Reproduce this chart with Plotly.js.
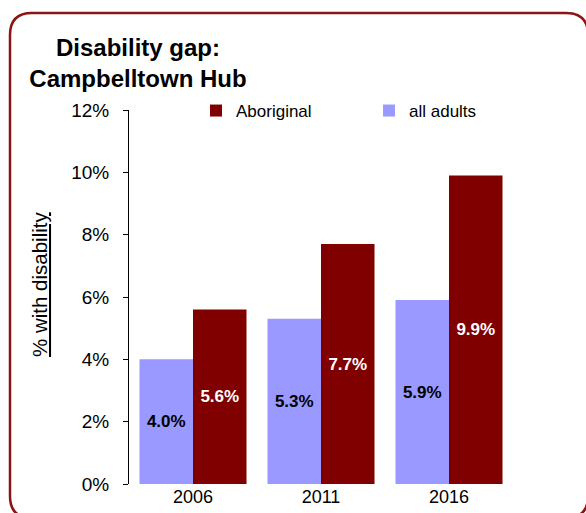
<!DOCTYPE html>
<html>
<head>
<meta charset="utf-8">
<script src="https://cdn.plot.ly/plotly-3.0.1.min.js"></script>
<style>
html,body{margin:0;padding:0;background:#fff;}
#chart{width:586px;height:513px;}
</style>
</head>
<body>
<div id="chart"></div>
<script>
// ---- data ----
var years = ['2006', '2011', '2016'];
var allAdults = [0.040, 0.053, 0.059];
var aboriginal = [0.056, 0.077, 0.099];
var allAdultsLabels = ['4.0%', '5.3%', '5.9%'];
var aboriginalLabels = ['5.6%', '7.7%', '9.9%'];
var seriesNames = ['all adults', 'Aboriginal'];
var chartTitle = 'Disability gap:<br>Campbelltown Hub';
var yTitle = '% with disability';

// ---- layout geometry ----
var W = 586, H = 513;
var M = {l: 129, r: 73, t: 110, b: 29};
var PW = W - M.l - M.r, PH = H - M.t - M.b;
function px(x) { return ((x - M.l) / PW).toFixed(5); }
function py(y) { return ((H - M.b - y) / PH).toFixed(5); }

// rounded border rectangle in paper coordinates
var bL = 10, bT = 13, bR = 588, bB = 518, R = 22;
var borderPath =
  'M' + px(bL + R) + ',' + py(bT) +
  ' L' + px(bR - R) + ',' + py(bT) +
  ' Q' + px(bR) + ',' + py(bT) + ' ' + px(bR) + ',' + py(bT + R) +
  ' L' + px(bR) + ',' + py(bB - R) +
  ' Q' + px(bR) + ',' + py(bB) + ' ' + px(bR - R) + ',' + py(bB) +
  ' L' + px(bL + R) + ',' + py(bB) +
  ' Q' + px(bL) + ',' + py(bB) + ' ' + px(bL) + ',' + py(bB - R) +
  ' L' + px(bL) + ',' + py(bT + R) +
  ' Q' + px(bL) + ',' + py(bT) + ' ' + px(bL + R) + ',' + py(bT) + ' Z';

var FONT = 'Liberation Sans, Arial, Helvetica, sans-serif';

var traces = [
  {
    type: 'bar', name: seriesNames[0], x: years, y: allAdults,
    text: allAdultsLabels, textposition: 'inside', insidetextanchor: 'middle',
    textfont: {family: FONT, size: 17, color: '#000', weight: 'bold'},
    marker: {color: '#9999FF'}, hoverinfo: 'skip', cliponaxis: false
  },
  {
    type: 'bar', name: seriesNames[1], x: years, y: aboriginal,
    text: aboriginalLabels, textposition: 'inside', insidetextanchor: 'middle',
    textfont: {family: FONT, size: 17, color: '#fff', weight: 'bold'},
    marker: {color: '#800000'}, hoverinfo: 'skip', cliponaxis: false
  }
];

var layout = {
  width: W, height: H,
  margin: M,
  paper_bgcolor: '#fff', plot_bgcolor: '#fff',
  font: {family: FONT, color: '#000', size: 17},
  title: {
    text: '<b>' + chartTitle + '</b>',
    font: {family: FONT, size: 24, color: '#000'},
    xref: 'container', yref: 'container',
    x: 138 / W, xanchor: 'center',
    y: 1 - 56 / H, yanchor: 'top'
  },
  barmode: 'group', bargap: 0.164, bargroupgap: 0,
  showlegend: true,
  legend: {
    orientation: 'h', traceorder: 'reversed',
    x: px(196), xanchor: 'left', y: py(111), yanchor: 'middle',
    font: {family: FONT, size: 17, color: '#000'},
    entrywidth: 128, itemwidth: 30,
    bgcolor: 'rgba(0,0,0,0)'
  },
  xaxis: {
    type: 'category', showline: false, ticks: '', showgrid: false, zeroline: false,
    tickfont: {family: FONT, size: 18, color: '#000'},
    fixedrange: true
  },
  yaxis: {
    range: [0, 0.12], dtick: 0.02, tick0: 0, tickformat: '.0%',
    showline: true, linecolor: '#000', linewidth: 1,
    ticks: 'outside', ticklen: 5, tickcolor: '#000', tickwidth: 1,
    ticklabelstandoff: 10,
    showgrid: false, zeroline: false,
    tickfont: {family: FONT, size: 19, color: '#000'},
    fixedrange: true
  },
  annotations: [
    {
      text: '<u>' + yTitle + '</u>', textangle: -90,
      xref: 'paper', yref: 'paper', x: px(40), y: py(285),
      xanchor: 'center', yanchor: 'middle', showarrow: false,
      font: {family: FONT, size: 20.5, color: '#000'}
    }
  ],
  shapes: [
    {type: 'path', xref: 'paper', yref: 'paper', path: borderPath,
     line: {color: '#8B1414', width: 2.5}, fillcolor: 'rgba(0,0,0,0)', layer: 'below'}
  ]
};

Plotly.newPlot('chart', traces, layout, {displayModeBar: false, staticPlot: true});
</script>
</body>
</html>
